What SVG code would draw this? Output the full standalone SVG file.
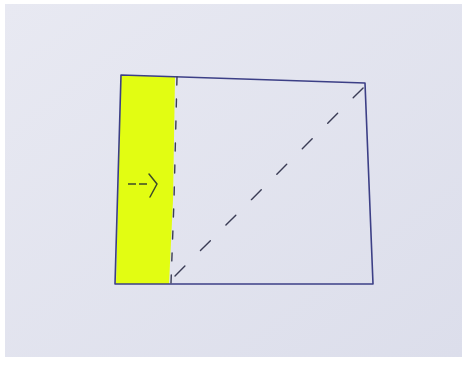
<svg xmlns="http://www.w3.org/2000/svg" width="462" height="365" viewBox="0 0 462 365">
<defs>
<style>
.pen{fill:none;stroke:#3c3f86;stroke-width:1.6;stroke-linecap:round;stroke-linejoin:round}
.dash{fill:none;stroke:#3a3c55;stroke-width:1.4;stroke-linecap:round}
</style>
<linearGradient id="bg" x1="0" y1="0" x2="1" y2="1">
<stop offset="0" stop-color="#e8e9f2"/>
<stop offset="1" stop-color="#dcdeeb"/>
</linearGradient>
</defs>
<rect width="462" height="365" fill="#ffffff"/>
<rect x="5" y="4" width="457" height="353" fill="url(#bg)"/>
<g id="yellow-strip">
<path d="M121,75 L175,77 L173,200 L169,284 L116,284 Z" fill="#e2fd12"/>
</g>
<g id="frame">
<path class="pen" d="M121,75 L365,83 L373,284 L115,284 Z"/>
</g>
<g id="connectors">
<path class="dash" stroke-dasharray="8 14" d="M177,77 L174,200 L171,283"/>
<path class="dash" stroke-dasharray="14 22" d="M175,276 L364,87"/>
<path d="M128,184 L147,184" fill="none" stroke="#3c4a2a" stroke-width="1.5" stroke-dasharray="8 3"/>
<path d="M149,174 L157,184 L150,197" fill="none" stroke="#3c4a2a" stroke-width="1.5" stroke-linecap="round" stroke-linejoin="round"/>
</g>
</svg>
